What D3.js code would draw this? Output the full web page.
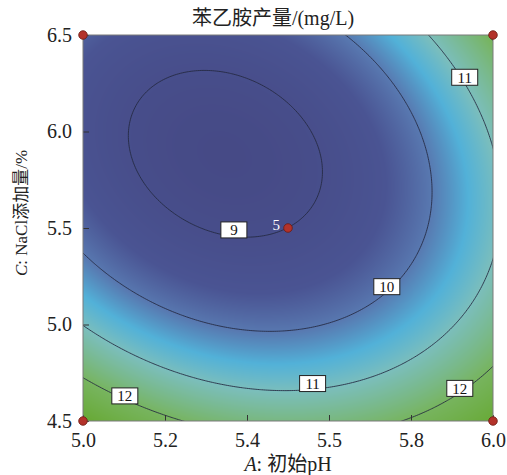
<!DOCTYPE html>
<html>
<head>
<meta charset="utf-8">
<script src="https://cdn.jsdelivr.net/npm/d3@7"></script>
<style>
body { margin: 0; background: #fff; }
text { font-family: "Liberation Serif", "Noto Sans CJK SC", serif; }
</style>
</head>
<body>
<svg id="chart" width="507" height="475"></svg>
<script>
// fitted quadratic model, coded units: x=(pH-5.5)/0.5, y=(NaCl-5.5)/1
const modelTerms = ["Intercept", "A", "C", "AC", "A^2", "C^2"];
const modelCoefs = [9.0, 0.583, -1.014, 0.626, 1.324, 1.59];

const contourLevels = [9, 10, 11, 12];

const tickA = [5.0, 5.2, 5.4, 5.6, 5.8, 6.0];
const tickALabels = ["5.0", "5.2", "5.4", "5.5", "5.8", "6.0"];
const tickC = [4.5, 5.0, 5.5, 6.0, 6.5];
const tickCLabels = ["4.5", "5.0", "5.5", "6.0", "6.5"];

// contour labels (level, pH, NaCl)
const labelLevel = [9, 10, 11, 11, 12, 12];
const labelA = [5.368, 5.741, 5.931, 5.560, 5.102, 5.919];
const labelC = [5.490, 5.196, 6.281, 4.694, 4.630, 4.669];

// design points
const designA = [5.0, 6.0, 5.0, 6.0, 5.5];
const designC = [4.5, 4.5, 6.5, 6.5, 5.5];
const designText = ["", "", "", "", "5"];

const svg = d3.select("#chart");
const mLeft = 83, mTop = 35, pw = 410, ph = 386;

const x = d3.scaleLinear().domain([5.0, 6.0]).range([mLeft, mLeft + pw]);
const y = d3.scaleLinear().domain([4.5, 6.5]).range([mTop + ph, mTop]);

function model(a, c) {
    const X = (a - 5.5) / 0.5, Y = (c - 5.5) / 1.0;
    const b = modelCoefs;
    return b[0] + b[1] * X + b[2] * Y + b[3] * X * Y + b[4] * X * X + b[5] * Y * Y;
}

const color = d3.scaleLinear()
    .domain([8.7, 9.5, 10.0, 10.5, 11.0, 12.0, 13.0])
    .range(["#464a86", "#4a5493", "#5878b0", "#52b1d8", "#7bbebc", "#77b45e", "#66a831"])
    .clamp(true);

// surface image
const cv = document.createElement("canvas");
cv.width = pw; cv.height = ph;
const ctx = cv.getContext("2d");
const img = ctx.createImageData(pw, ph);
for (let j = 0; j < ph; j++) {
    for (let i = 0; i < pw; i++) {
        const a = x.invert(mLeft + i + 0.5), c = y.invert(mTop + j + 0.5);
        const col = d3.rgb(color(model(a, c)));
        const k = (j * pw + i) * 4;
        img.data[k] = col.r; img.data[k + 1] = col.g; img.data[k + 2] = col.b; img.data[k + 3] = 255;
    }
}
ctx.putImageData(img, 0, 0);

svg.append("image")
    .attr("x", mLeft).attr("y", mTop)
    .attr("width", pw).attr("height", ph)
    .attr("href", cv.toDataURL());

svg.append("clipPath").attr("id", "clip")
    .append("rect").attr("x", mLeft).attr("y", mTop).attr("width", pw).attr("height", ph);

// contour lines
const nx = 240, ny = 240, a0 = 4.95, a1 = 6.05, c0 = 4.4, c1 = 6.6;
const da = (a1 - a0) / (nx - 1), dc = (c1 - c0) / (ny - 1);
const values = new Array(nx * ny);
for (let j = 0; j < ny; j++)
    for (let i = 0; i < nx; i++)
        values[j * nx + i] = model(a0 + i * da, c0 + j * dc);

const contours = d3.contours().size([nx, ny]).thresholds(contourLevels)(values);
const proj = d3.geoTransform({
    point: function(px, py) { this.stream.point(x(a0 + px * da), y(c0 + py * dc)); }
});
const path = d3.geoPath(proj);

svg.append("g")
    .attr("clip-path", "url(#clip)")
    .selectAll("path")
    .data(contours)
    .join("path")
    .attr("d", path)
    .attr("fill", "none")
    .attr("stroke", "#23283f")
    .attr("stroke-opacity", 0.85)
    .attr("stroke-width", 1);

// axes
const xAxis = d3.axisBottom(x)
    .tickValues(tickA)
    .tickFormat((d, i) => tickALabels[i])
    .tickSizeInner(-6).tickSizeOuter(0).tickPadding(12);
const yAxis = d3.axisLeft(y)
    .tickValues(tickC)
    .tickFormat((d, i) => tickCLabels[i])
    .tickSizeInner(-6).tickSizeOuter(0).tickPadding(11);

const gx = svg.append("g").attr("transform", "translate(0," + (mTop + ph) + ")").call(xAxis);
const gy = svg.append("g").attr("transform", "translate(" + mLeft + ",0)").call(yAxis);
[gx, gy].forEach(g => {
    g.select(".domain").remove();
    g.selectAll(".tick line").attr("stroke", "#333");
    g.selectAll(".tick text")
        .attr("font-family", "Liberation Serif")
        .attr("font-size", 20)
        .attr("fill", "#222");
});

// frame
svg.append("rect")
    .attr("x", mLeft).attr("y", mTop).attr("width", pw).attr("height", ph)
    .attr("fill", "none").attr("stroke", "#7a7a7a").attr("stroke-width", 1);

// contour labels
const lab = svg.append("g").selectAll("g")
    .data(labelLevel)
    .join("g")
    .attr("transform", (d, i) => "translate(" + x(labelA[i]) + "," + y(labelC[i]) + ")");
lab.append("rect")
    .attr("x", -13).attr("y", -8).attr("width", 26).attr("height", 16)
    .attr("fill", "#fff").attr("stroke", "#222").attr("stroke-width", 1);
lab.append("text")
    .attr("text-anchor", "middle").attr("dy", "0.35em")
    .attr("font-size", 15).attr("fill", "#111")
    .text(d => d);

// design points
svg.append("g").selectAll("circle")
    .data(designA)
    .join("circle")
    .attr("cx", d => x(d))
    .attr("cy", (d, i) => y(designC[i]))
    .attr("r", 4.3)
    .attr("fill", "#b3322a")
    .attr("stroke", "#6b1a12")
    .attr("stroke-width", 0.8);
svg.append("g").selectAll("text")
    .data(designA)
    .join("text")
    .attr("x", d => x(d) - 8)
    .attr("y", (d, i) => y(designC[i]) + 2)
    .attr("text-anchor", "end")
    .attr("font-size", 15)
    .attr("fill", "#fff")
    .text((d, i) => designText[i]);

// titles
svg.append("text")
    .attr("x", 273).attr("y", 25)
    .attr("text-anchor", "middle")
    .attr("font-size", 20).attr("fill", "#222")
    .text("苯乙胺产量/(mg/L)");

const xt = svg.append("text")
    .attr("x", 288).attr("y", 471)
    .attr("text-anchor", "middle")
    .attr("font-size", 20).attr("fill", "#222");
xt.append("tspan").attr("font-style", "italic").text("A");
xt.append("tspan").text(": 初始pH");

const yt = svg.append("text")
    .attr("transform", "translate(27,213) rotate(-90)")
    .attr("text-anchor", "middle")
    .attr("font-size", 17).attr("fill", "#222");
yt.append("tspan").attr("font-style", "italic").text("C");
yt.append("tspan").text(": NaCl添加量/%");
</script>
</body>
</html>
